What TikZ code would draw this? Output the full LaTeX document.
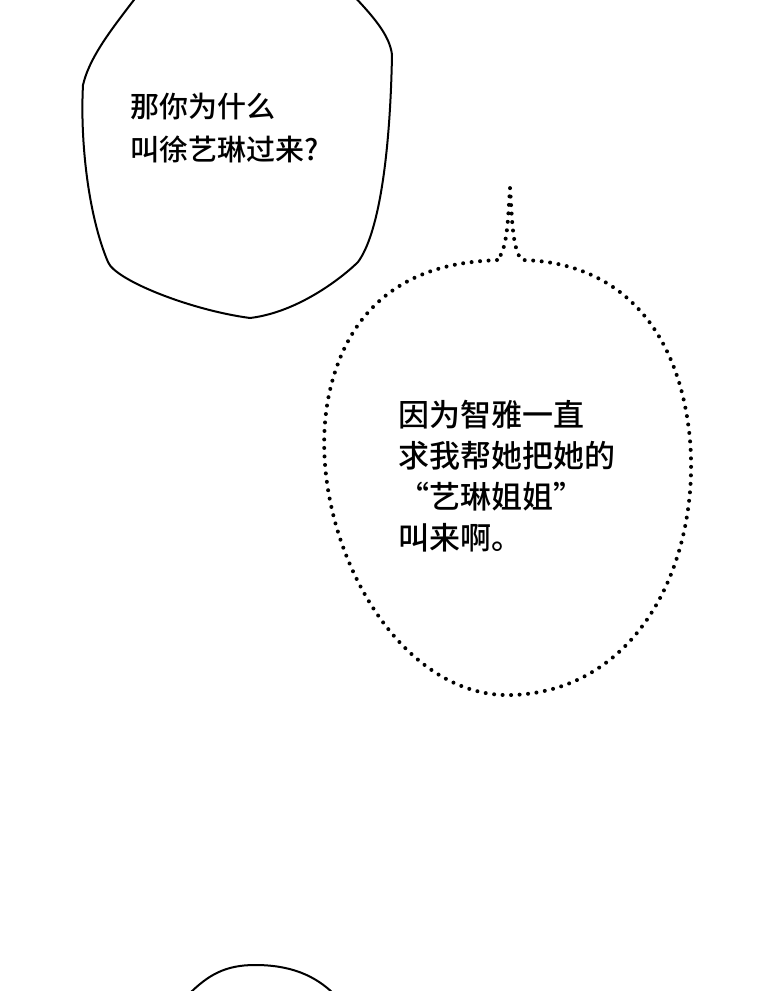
\documentclass[tikz,border=0pt]{standalone}
\usepackage{fontspec}
\newfontfamily\cjk[BoldFont={Noto Sans CJK SC Bold}]{Noto Sans CJK SC Medium}
\begin{document}
\begin{tikzpicture}[x=1pt,y=-1pt,
  bub/.style={draw=black,line width=2pt,fill=white},
  dotbub/.style={draw=black,line width=4pt,line cap=round,dash pattern=on 0pt off 8.5pt,fill=white},
  txt/.style={font=\cjk\fontsize{29}{43}\selectfont,align=left,anchor=north west,inner sep=0pt}]
\useasboundingbox (0,0) rectangle (760,991);
\draw[bub] (140,-8) .. controls (115,25) and (90,55) .. (83,85)
  .. controls (80,140) and (88,215) .. (108,262)
  .. controls (115,280) and (190,310) .. (250,318)
  .. controls (300,312) and (345,275) .. (358,262)
  .. controls (378,235) and (390,160) .. (392,55)
  .. controls (390,35) and (372,15) .. (350,-8);
\node[txt] (t1) at (130,93) {那你为什么\\叫徐艺琳过来?};
\draw[dotbub] (497,260) .. controls (470,262) and (360,262) .. (330,390)
  .. controls (300,520) and (390,700) .. (513,695)
  .. controls (640,690) and (700,560) .. (690,440)
  .. controls (680,330) and (620,262) .. (522,260)
  .. controls (512,250) and (512,215) .. (510,188)
  .. controls (508,215) and (508,250) .. (497,260);
\node[txt,font=\cjk\fontsize{31}{41}\selectfont] (t2) at (398,400) {因为智雅一直\\求我帮她把她的\\“艺琳姐姐”\\叫来啊。};
\draw[bub] (188,995) .. controls (208,975) and (225,965) .. (255,965) .. controls (290,965) and (315,975) .. (335,995);
\end{tikzpicture}
\end{document}
